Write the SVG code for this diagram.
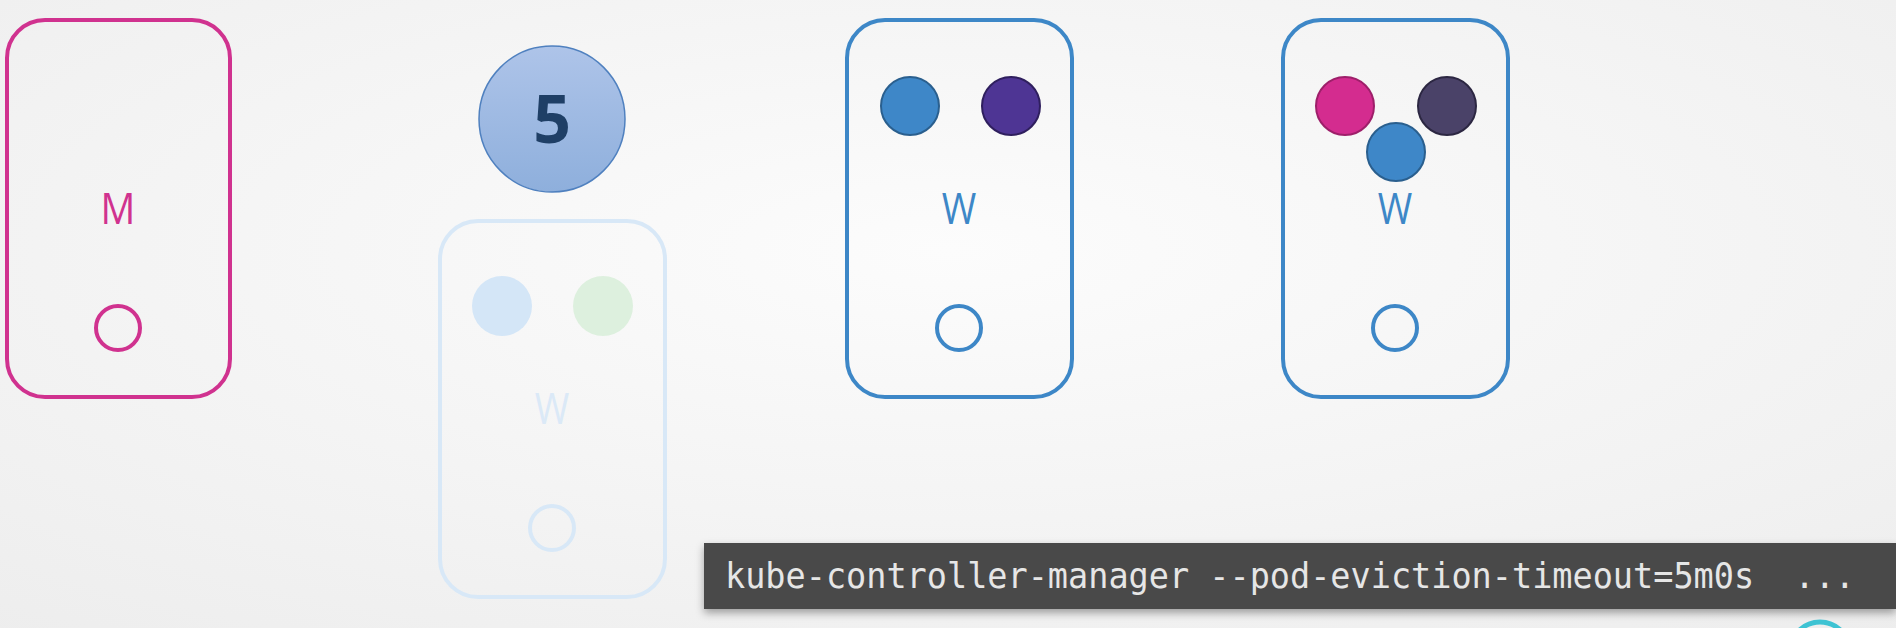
<svg xmlns="http://www.w3.org/2000/svg" width="1896" height="628" viewBox="0 0 1896 628">
<defs>
<radialGradient id="bg" cx="50%" cy="40%" r="80%">
<stop offset="0" stop-color="#fcfcfc"/>
<stop offset="1" stop-color="#ededed"/>
</radialGradient>
<linearGradient id="g5" x1="0" y1="0" x2="0" y2="1">
<stop offset="0" stop-color="#aec4e9"/>
<stop offset="1" stop-color="#8eafdc"/>
</linearGradient>
<filter id="sh" x="-5%" y="-30%" width="110%" height="170%">
<feDropShadow dx="0" dy="4" stdDeviation="4" flood-color="#000" flood-opacity="0.35"/>
</filter>
</defs>
<style>
.lbl{font-family:"Open Sans","Noto Sans",sans-serif;font-size:44px;text-anchor:middle}
.box{fill:none;stroke-width:4}
.mag{stroke:#d0328f}
.blu{stroke:#3d87c7}
.fad{stroke:#d8e8f7}
.cmd{font-family:"DejaVu Sans Mono","Liberation Mono",monospace;font-size:35px;fill:#e6e6e6}
</style>
<rect width="1896" height="628" fill="url(#bg)"/>
<g id="master">
<rect class="box mag" x="7" y="20" width="223" height="377" rx="38"/>
<text class="lbl" x="118" y="224" fill="#d0328f" transform="translate(118 0) scale(0.88 1) translate(-118 0)">M</text>
<circle cx="118" cy="328" r="22" fill="none" stroke="#d0328f" stroke-width="4"/>
</g>
<g id="counter">
<circle cx="552" cy="119" r="73" fill="url(#g5)" stroke="#4f80bf" stroke-width="1.5"/>
<text x="552" y="143" text-anchor="middle" font-family="'Open Sans','Noto Sans',sans-serif" font-weight="bold" font-size="66" fill="#1f3f66">5</text>
</g>
<g id="worker-faded">
<rect class="box fad" x="440" y="221" width="225" height="376" rx="38"/>
<circle cx="502" cy="306" r="30" fill="#d4e6f7"/>
<circle cx="603" cy="306" r="30" fill="#ddf0de"/>
<text class="lbl" x="552" y="424" fill="#dbe9f7" transform="translate(552 0) scale(0.85 1) translate(-552 0)">W</text>
<circle cx="552" cy="528" r="22" fill="none" stroke="#d8e8f7" stroke-width="4"/>
</g>
<g id="worker1">
<rect class="box blu" x="847" y="20" width="225" height="377" rx="38"/>
<circle cx="910" cy="106" r="29" fill="#3e87c8" stroke="#2a5f8e" stroke-width="2"/>
<circle cx="1011" cy="106" r="29" fill="#4e3594" stroke="#2f1f5e" stroke-width="2"/>
<text class="lbl" x="959" y="224" fill="#3d87c7" transform="translate(959 0) scale(0.85 1) translate(-959 0)">W</text>
<circle cx="959" cy="328" r="22" fill="none" stroke="#3d87c7" stroke-width="4"/>
</g>
<g id="worker2">
<rect class="box blu" x="1283" y="20" width="225" height="377" rx="38"/>
<circle cx="1345" cy="106" r="29" fill="#d42c8f" stroke="#9e1f6a" stroke-width="2"/>
<circle cx="1447" cy="106" r="29" fill="#4a4268" stroke="#2c2742" stroke-width="2"/>
<circle cx="1396" cy="152" r="29" fill="#3e87c8" stroke="#2a5f8e" stroke-width="2"/>
<text class="lbl" x="1395" y="224" fill="#3d87c7" transform="translate(1395 0) scale(0.85 1) translate(-1395 0)">W</text>
<circle cx="1395" cy="328" r="22" fill="none" stroke="#3d87c7" stroke-width="4"/>
</g>
<g id="connectors"></g>
<g id="command">
<rect x="704" y="543" width="1192" height="66" fill="#4a4a4a" filter="url(#sh)"/>
<text class="cmd" x="725" y="588" textLength="1130" lengthAdjust="spacingAndGlyphs" xml:space="preserve">kube-controller-manager --pod-eviction-timeout=5m0s  ...</text>
</g>
<circle cx="1820" cy="652" r="30" fill="none" stroke="#3ec3d3" stroke-width="5"/>
</svg>
